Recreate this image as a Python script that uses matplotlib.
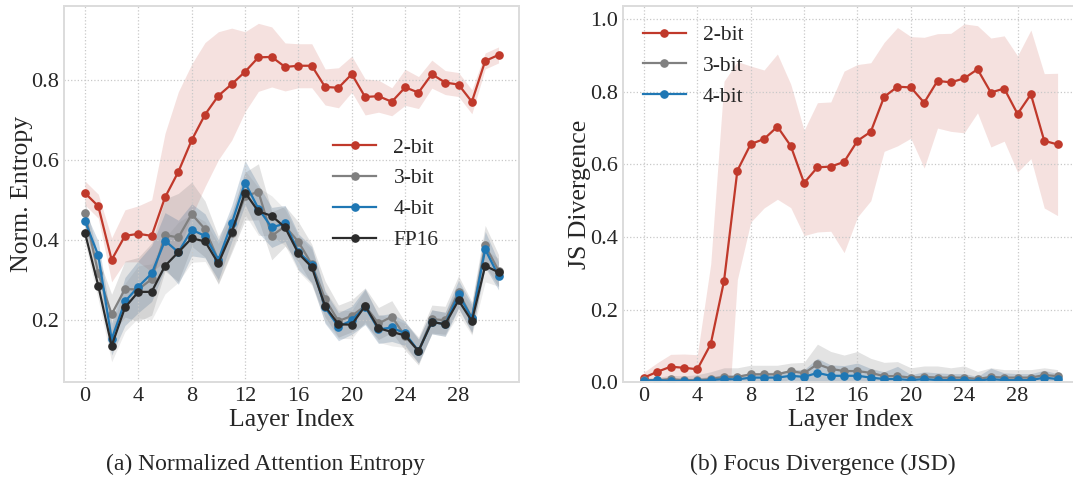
import numpy as np
import matplotlib
matplotlib.use("Agg")
import matplotlib.pyplot as plt

plt.rcParams['font.family'] = ['Liberation Serif', 'DejaVu Serif']
plt.rcParams['text.color'] = '#262626'
plt.rcParams['axes.labelcolor'] = '#262626'
plt.rcParams['xtick.color'] = '#262626'
plt.rcParams['ytick.color'] = '#262626'

layers = np.arange(32)
xticks = [0, 4, 8, 12, 16, 20, 24, 28]

# (a) Normalized attention entropy: mean and std per layer
ent_2bit = [0.518, 0.485, 0.351, 0.411, 0.416, 0.411, 0.507, 0.571, 0.650, 0.714,
            0.761, 0.790, 0.821, 0.857, 0.858, 0.833, 0.836, 0.836, 0.783, 0.781,
            0.815, 0.758, 0.760, 0.746, 0.782, 0.769, 0.815, 0.794, 0.789, 0.746,
            0.848, 0.863]
ent_2bit_std = [0.03, 0.03, 0.055, 0.065, 0.07, 0.09, 0.16, 0.2, 0.19, 0.18,
                0.16, 0.14, 0.1, 0.085, 0.075, 0.06, 0.055, 0.055, 0.045, 0.05,
                0.045, 0.045, 0.04, 0.035, 0.045, 0.04, 0.035, 0.03, 0.03, 0.03,
                0.02, 0.02]
ent_3bit = [0.469, 0.317, 0.215, 0.278, 0.277, 0.303, 0.413, 0.407, 0.465, 0.428,
            0.350, 0.419, 0.510, 0.521, 0.411, 0.435, 0.396, 0.340, 0.253, 0.198,
            0.211, 0.236, 0.192, 0.209, 0.160, 0.123, 0.203, 0.200, 0.271, 0.206,
            0.387, 0.324]
ent_3bit_std = [0.03, 0.04, 0.05, 0.07, 0.08, 0.09, 0.09, 0.11, 0.08, 0.07,
                0.06, 0.05, 0.06, 0.07, 0.06, 0.05, 0.05, 0.05, 0.045, 0.04,
                0.04, 0.045, 0.04, 0.04, 0.035, 0.035, 0.035, 0.035, 0.04, 0.04,
                0.05, 0.04]
ent_4bit = [0.448, 0.362, 0.153, 0.247, 0.284, 0.317, 0.399, 0.370, 0.426, 0.411,
            0.351, 0.442, 0.544, 0.479, 0.432, 0.442, 0.371, 0.339, 0.232, 0.184,
            0.200, 0.234, 0.177, 0.182, 0.167, 0.123, 0.196, 0.190, 0.265, 0.205,
            0.377, 0.311]
ent_4bit_std = [0.025, 0.035, 0.04, 0.06, 0.065, 0.07, 0.07, 0.08, 0.065, 0.055,
                0.05, 0.045, 0.055, 0.06, 0.05, 0.045, 0.045, 0.045, 0.04, 0.035,
                0.035, 0.045, 0.035, 0.035, 0.03, 0.03, 0.03, 0.03, 0.035, 0.035,
                0.045, 0.035]
ent_fp16 = [0.419, 0.286, 0.136, 0.232, 0.271, 0.271, 0.336, 0.370, 0.405, 0.397,
            0.342, 0.420, 0.519, 0.472, 0.461, 0.432, 0.367, 0.333, 0.235, 0.190,
            0.189, 0.236, 0.180, 0.171, 0.162, 0.123, 0.196, 0.190, 0.250, 0.198,
            0.336, 0.320]
ent_fp16_std = [0.025, 0.035, 0.04, 0.06, 0.065, 0.07, 0.07, 0.075, 0.06, 0.05,
                0.05, 0.045, 0.055, 0.06, 0.05, 0.045, 0.045, 0.045, 0.04, 0.035,
                0.035, 0.04, 0.035, 0.035, 0.03, 0.03, 0.03, 0.03, 0.035, 0.035,
                0.04, 0.035]

# (b) Focus divergence (JSD) against FP16
jsd_2bit = [0.013, 0.029, 0.043, 0.040, 0.036, 0.105, 0.279, 0.583, 0.656, 0.670,
            0.704, 0.651, 0.549, 0.592, 0.594, 0.607, 0.665, 0.690, 0.786, 0.814,
            0.812, 0.770, 0.830, 0.826, 0.837, 0.862, 0.798, 0.809, 0.739, 0.793,
            0.665, 0.655]
jsd_2bit_std = [0.015, 0.025, 0.034, 0.038, 0.04, 0.22, 0.55, 0.3, 0.215, 0.19,
                0.2, 0.17, 0.145, 0.178, 0.178, 0.25, 0.21, 0.19, 0.15, 0.163,
                0.14, 0.18, 0.13, 0.135, 0.15, 0.12, 0.15, 0.145, 0.16, 0.177,
                0.185, 0.196]
jsd_3bit = [0.006, 0.006, 0.009, 0.006, 0.006, 0.009, 0.015, 0.015, 0.022, 0.022,
            0.022, 0.031, 0.025, 0.050, 0.037, 0.031, 0.031, 0.026, 0.017, 0.017,
            0.013, 0.015, 0.013, 0.013, 0.013, 0.009, 0.015, 0.013, 0.013, 0.013,
            0.020, 0.017]
jsd_3bit_std = [0.006, 0.008, 0.01, 0.012, 0.015, 0.02, 0.025, 0.025, 0.025, 0.025,
                0.025, 0.022, 0.03, 0.055, 0.048, 0.044, 0.054, 0.04, 0.038, 0.04,
                0.027, 0.03, 0.032, 0.027, 0.032, 0.021, 0.025, 0.022, 0.022, 0.022,
                0.02, 0.018]
jsd_4bit = [0.004, 0.006, 0.004, 0.004, 0.004, 0.006, 0.009, 0.008, 0.013, 0.013,
            0.013, 0.018, 0.015, 0.026, 0.018, 0.018, 0.018, 0.013, 0.009, 0.009,
            0.006, 0.009, 0.006, 0.006, 0.006, 0.004, 0.009, 0.006, 0.006, 0.006,
            0.013, 0.009]
jsd_4bit_std = [0.004, 0.005, 0.006, 0.007, 0.008, 0.01, 0.012, 0.012, 0.014, 0.014,
                0.015, 0.017, 0.02, 0.04, 0.03, 0.028, 0.035, 0.025, 0.02, 0.035,
                0.015, 0.02, 0.02, 0.018, 0.018, 0.012, 0.03, 0.02, 0.018, 0.018,
                0.02, 0.015]

RED = '#c0392b'
GRAY = '#808080'
BLUE = '#1f77b4'
BLACK = '#2b2b2b'
BAND_BLUE = '#4a7196'


def draw(ax, mean, std, color, band_color, band_alpha, label):
    mean = np.array(mean)
    std = np.array(std)
    ax.fill_between(layers, mean - std, mean + std, color=band_color,
                    alpha=band_alpha, linewidth=0)
    ax.plot(layers, mean, color=color, marker='o', markersize=5.2,
            linewidth=1.6, label=label)


def style(ax):
    ax.set_facecolor('white')
    ax.grid(True, linestyle=':', color='#c8c8c8', linewidth=0.9)
    for s in ax.spines.values():
        s.set_color('#dcdcdc')
        s.set_linewidth(1.4)
    ax.tick_params(length=0, labelsize=16, pad=3.5)
    ax.set_xticks(xticks)
    ax.set_xlim(-1.55, 32.55)


fig = plt.figure(figsize=(10.73, 4.8), dpi=100)

# ----- (a)
ax1 = fig.add_axes([0.0599, 0.2035, 0.424, 0.7846])
draw(ax1, ent_2bit, ent_2bit_std, RED, RED, 0.15, '2-bit')
draw(ax1, ent_3bit, ent_3bit_std, GRAY, GRAY, 0.22, '3-bit')
draw(ax1, ent_4bit, ent_4bit_std, BLUE, BAND_BLUE, 0.25, '4-bit')
draw(ax1, ent_fp16, ent_fp16_std, BLACK, GRAY, 0.15, 'FP16')
style(ax1)
ax1.set_ylim(0.045, 0.986)
ax1.set_yticks([0.2, 0.4, 0.6, 0.8])
ax1.set_xlabel('Layer Index', fontsize=18.5, labelpad=2)
ax1.set_ylabel('Norm. Entropy', fontsize=18.5, labelpad=-1)
ax1.legend(loc='upper left', bbox_to_anchor=(0.572, 0.673), borderaxespad=0,
           frameon=False, fontsize=15.5)

# ----- (b)
ax2 = fig.add_axes([0.5809, 0.2035, 0.424, 0.7846])
draw(ax2, jsd_2bit, jsd_2bit_std, RED, RED, 0.15, '2-bit')
draw(ax2, jsd_3bit, jsd_3bit_std, GRAY, GRAY, 0.22, '3-bit')
draw(ax2, jsd_4bit, jsd_4bit_std, BLUE, BAND_BLUE, 0.25, '4-bit')
style(ax2)
ax2.set_ylim(0, 1.037)
ax2.set_yticks([0.0, 0.2, 0.4, 0.6, 0.8, 1.0])
ax2.set_yticklabels(['0.0', '0.2', '0.4', '0.6', '0.8', '1.0'])
ax2.set_xlabel('Layer Index', fontsize=18.5, labelpad=2)
ax2.set_ylabel('JS Divergence', fontsize=18.5, labelpad=0)
ax2.legend(loc='upper left', frameon=False, fontsize=15.5)

fig.text(265 / 1073, 0.0208, '(a) Normalized Attention Entropy',
         ha='center', va='baseline', fontsize=17)
fig.text(823 / 1073, 0.0208, '(b) Focus Divergence (JSD)',
         ha='center', va='baseline', fontsize=17)

fig.savefig('out.png', dpi=100)
